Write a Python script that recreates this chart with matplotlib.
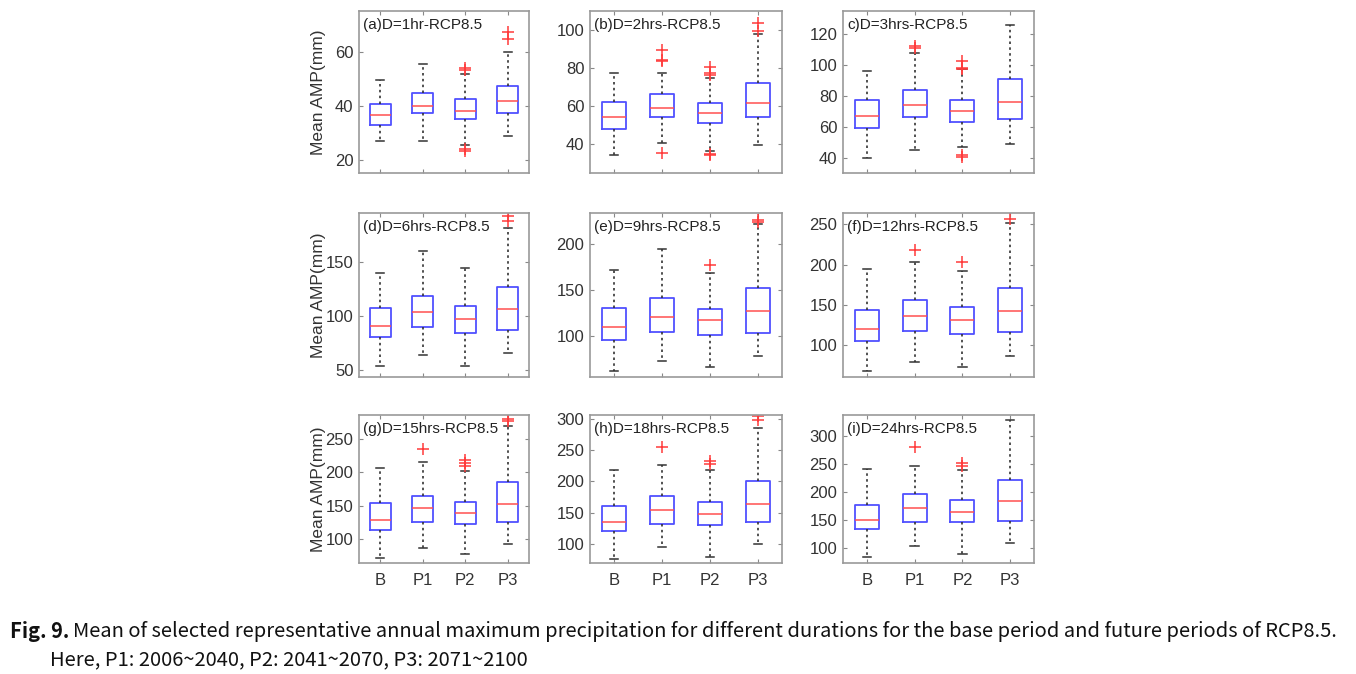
import numpy as np
import matplotlib.pyplot as plt

plt.rcParams['font.family'] = ['Liberation Sans', 'DejaVu Sans']

periods = ['B', 'P1', 'P2', 'P3']
panel_titles = ['(a)D=1hr-RCP8.5', '(b)D=2hrs-RCP8.5', 'c)D=3hrs-RCP8.5',
                '(d)D=6hrs-RCP8.5', '(e)D=9hrs-RCP8.5', '(f)D=12hrs-RCP8.5',
                '(g)D=15hrs-RCP8.5', '(h)D=18hrs-RCP8.5', '(i)D=24hrs-RCP8.5']

# box statistics per panel, order B, P1, P2, P3
whis_lo = [[27, 27, 25.2, 28.7], [34.2, 40.5, 36.5, 39.6], [40, 44.9, 46.9, 49],
           [53.8, 64, 53.8, 66.2], [61.5, 72.7, 65.8, 78.2], [68.9, 80.1, 73.1, 87.2],
           [70.9, 86, 75.9, 92], [76.1, 95.2, 80.3, 100], [83.4, 103, 89.9, 108.9]]
q1 = [[32.6, 37.3, 34.9, 37.4], [47.9, 54.6, 51.3, 54.3], [59, 66.3, 63, 64.9],
      [80.9, 89.8, 84.9, 87.4], [95.6, 104, 101, 102.9], [105, 117.4, 114.1, 117],
      [112.5, 124.6, 122.6, 124.6], [121.8, 132.5, 129.8, 134.6], [134.4, 146.3, 146.3, 148.7]]
medians = [[36.6, 39.9, 38.1, 41.8], [54.5, 59.3, 56.3, 61.7], [66.8, 73.9, 70, 75.7],
           [90.5, 103.7, 97.8, 106.2], [109.8, 120.4, 117.5, 127.3], [120.7, 136, 131.1, 142.3],
           [127.6, 145.6, 138.6, 152.7], [135.1, 154.8, 148.4, 164.4], [149.3, 171.2, 164.1, 184.3]]
q3 = [[40.6, 44.7, 42.5, 47.3], [62.3, 66.2, 61.6, 72.2], [77.4, 83.5, 77, 90.8],
      [107.7, 119, 109.2, 127], [130.2, 141.1, 129.5, 152], [144.3, 156.8, 147.2, 171.3],
      [153.2, 163.7, 155.2, 185.3], [161.2, 176.1, 167, 200], [177.2, 196.1, 186.1, 220.5]]
whis_hi = [[49.5, 55.5, 51.5, 60], [77.4, 77.7, 74.9, 98], [96.2, 108.1, 97.2, 125.7],
           [139.4, 160, 144.6, 181.5], [171.6, 194.2, 168.4, 222.2], [194.9, 203.2, 191.6, 252],
           [207.3, 216.3, 202.8, 270], [217.6, 225.6, 218.6, 285.1], [240.7, 246.6, 239.5, 327.3]]
fliers = [[[], [], [53.3, 54, 23, 24], [64.7, 67.4]],
          [[], [84, 84.5, 89.5, 35.6], [76.5, 77.5, 80.5, 34.5, 35.2], [99.5, 103.5]],
          [[], [110.8, 112.5], [97.5, 98, 102.6, 40.5, 41.5], []],
          [[], [], [], [188, 192]],
          [[], [], [176.7], [224.7, 226.5]],
          [[], [218.1], [203.2], [257]],
          [[], [234.9], [210.3, 213.8, 218.9], [278, 281.5]],
          [[], [254.8], [227.7, 232], [297.4, 303.8]],
          [[], [279.8], [246.6, 251.3], []]]

ylims = [(15, 75), (25, 110), (30, 135), (44, 195), (55, 234), (61, 264),
         (63, 287), (70, 306), (73, 337)]
yticks = [[20, 40, 60], [40, 60, 80, 100], [40, 60, 80, 100, 120],
          [50, 100, 150], [100, 150, 200], [100, 150, 200, 250],
          [100, 150, 200, 250], [100, 150, 200, 250, 300], [100, 150, 200, 250, 300]]

W, H = 1356, 674
fig = plt.figure(figsize=(W / 100, H / 100), dpi=100)

# axes frames in pixels
cols = [(359, 170), (590, 192), (843, 191)]
rows = [(11, 173), (213, 377), (415, 563)]

for k in range(9):
    r, c = divmod(k, 3)
    left, width = cols[c]
    top, bot = rows[r]
    ax = fig.add_axes([left / W, 1 - bot / H, width / W, (bot - top) / H])

    stats = []
    for j in range(4):
        stats.append(dict(med=medians[k][j], q1=q1[k][j], q3=q3[k][j],
                          whislo=whis_lo[k][j], whishi=whis_hi[k][j],
                          fliers=fliers[k][j]))
    ax.bxp(stats, positions=[1, 2, 3, 4], widths=0.5, capwidths=0.18,
           boxprops=dict(color='#5050ff', lw=1.3),
           medianprops=dict(color='#ff5050', lw=1.1),
           whiskerprops=dict(color='#333333', ls=(0, (1.5, 2)), lw=1.2),
           capprops=dict(color='#333333', lw=1.1),
           flierprops=dict(marker='+', markeredgecolor='#ff3a3a', markersize=9,
                           markeredgewidth=1.1, linestyle='none'))

    ax.set_xlim(0.5, 4.5)
    ax.set_ylim(*ylims[k])
    ax.set_yticks(yticks[k])
    ax.set_xticks([1, 2, 3, 4])
    if r == 2:
        ax.set_xticklabels(periods)
    else:
        ax.set_xticklabels([])
    ax.tick_params(direction='in', top=True, right=True, length=3, width=0.8,
                   color='#888888', labelcolor='#333333', labelsize=12)
    ax.tick_params(axis='x', pad=7)
    ax.tick_params(axis='y', pad=4)
    for s in ax.spines.values():
        s.set_color('#999999')
        s.set_linewidth(1.2)

    ax.annotate(panel_titles[k], xy=(0, 1), xycoords='axes fraction',
                xytext=(3, -5), textcoords='offset points', ha='left', va='top',
                fontsize=11, color='#222222')

    if c == 0:
        fig.text(318 / W, 1 - (top + bot) / 2 / H, 'Mean AMP(mm)', rotation=90,
                 ha='center', va='center', fontsize=12.5, color='#333333')

# caption
cap_font = ['Noto Sans CJK KR', 'DejaVu Sans']
line1 = 'Mean of selected representative annual maximum precipitation for different durations for the base period and future periods of RCP8.5.'
line2 = 'Here, P1: 2006~2040, P2: 2041~2070, P3: 2071~2100'

fs = 14
t0 = fig.text(10 / W, 1 - 632 / H, 'Fig. 9.', fontsize=fs, weight='bold',
              family=cap_font, va='center', ha='left', color='#111111')
fig.canvas.draw()
rend = fig.canvas.get_renderer()
bb0 = t0.get_window_extent(rend)
t1 = fig.text((bb0.x1 + 4) / W, 1 - 632 / H, line1, fontsize=fs, family=cap_font,
              va='center', ha='left', color='#111111')
bb1 = t1.get_window_extent(rend)
# scale the caption to span the same width as in the figure
scale = (1338 - 10) / (bb1.x1 - bb0.x0)
fs = fs * scale
t0.set_fontsize(fs)
fig.canvas.draw()
bb0 = t0.get_window_extent(rend)
t1.set_fontsize(fs)
t1.set_x((bb0.x1 + 4) / W)
fig.text(50 / W, 1 - 660 / H, line2, fontsize=fs, family=cap_font,
         va='center', ha='left', color='#111111')

fig.savefig('out.png', dpi=100)
